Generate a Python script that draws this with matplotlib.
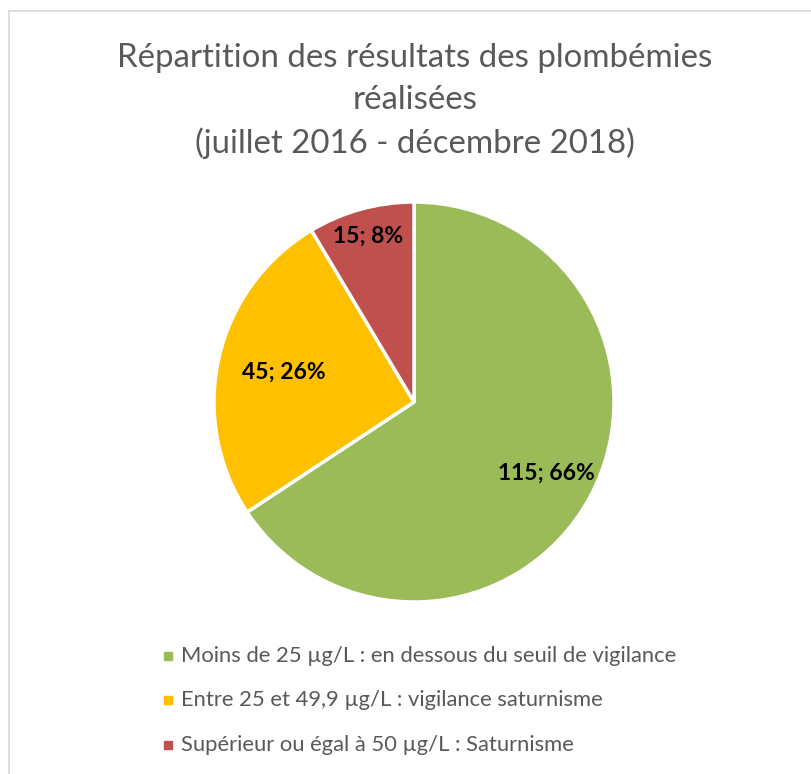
import numpy as np
import matplotlib.pyplot as plt
from matplotlib.patches import Rectangle
from matplotlib.lines import Line2D

# données
categories = [
    "Moins de 25 µg/L : en dessous du seuil de vigilance",
    "Entre 25 et 49,9 µg/L : vigilance saturnisme",
    "Supérieur ou égal à 50 µg/L : Saturnisme",
]
effectifs = [115, 45, 15]
pourcentages = [66, 26, 8]
couleurs = ["#9BBB59", "#FFC000", "#C0504D"]
titre = "Répartition des résultats des plombémies\nréalisées\n(juillet 2016 - décembre 2018)"

# distance des étiquettes au centre (fraction du rayon)
dist_etiquettes = [0.75, 0.67, 0.86]

plt.rcParams["font.family"] = ["Lato", "DejaVu Sans"]

W, H = 811, 774
fig = plt.figure(figsize=(W / 100, H / 100), dpi=100)

# cadre gris clair
fig.add_artist(Line2D([8.5 / W, 1], [1 - 11 / H, 1 - 11 / H], color="#D9D9D9", lw=1.2))
fig.add_artist(Line2D([8.5 / W, 8.5 / W], [0, 1 - 11 / H], color="#D9D9D9", lw=1.2))

# camembert
cx, cy, r = 414, 402, 200
ax = fig.add_axes([(cx - r) / W, (H - cy - r) / H, 2 * r / W, 2 * r / H])
wedges, _ = ax.pie(effectifs, colors=couleurs, startangle=90, counterclock=False,
                   radius=1, wedgeprops=dict(edgecolor="white", linewidth=2.5))
ax.set_xlim(-1, 1)
ax.set_ylim(-1, 1)
ax.set_aspect("equal")
ax.axis("off")

for w, n, p, d in zip(wedges, effectifs, pourcentages, dist_etiquettes):
    a = np.deg2rad((w.theta1 + w.theta2) / 2)
    ax.text(d * np.cos(a), d * np.sin(a), f"{n}; {p}%", ha="center", va="center",
            fontsize=16.5, fontweight="bold", color="black")

# titre
fig.text(415 / W, 1 - 101 / H, titre, ha="center", va="center", fontsize=23.8,
         color="#595959", linespacing=1.5)

# légende
y_rows = [656, 700, 745]
for lab, c, y in zip(categories, couleurs, y_rows):
    fig.add_artist(Rectangle((164 / W, 1 - (y + 4) / H), 8 / W, 8 / H, color=c))
    fig.text(181 / W, 1 - y / H, lab, ha="left", va="center", fontsize=15.8, color="#595959")

fig.savefig("out.png", dpi=100, facecolor="white")
